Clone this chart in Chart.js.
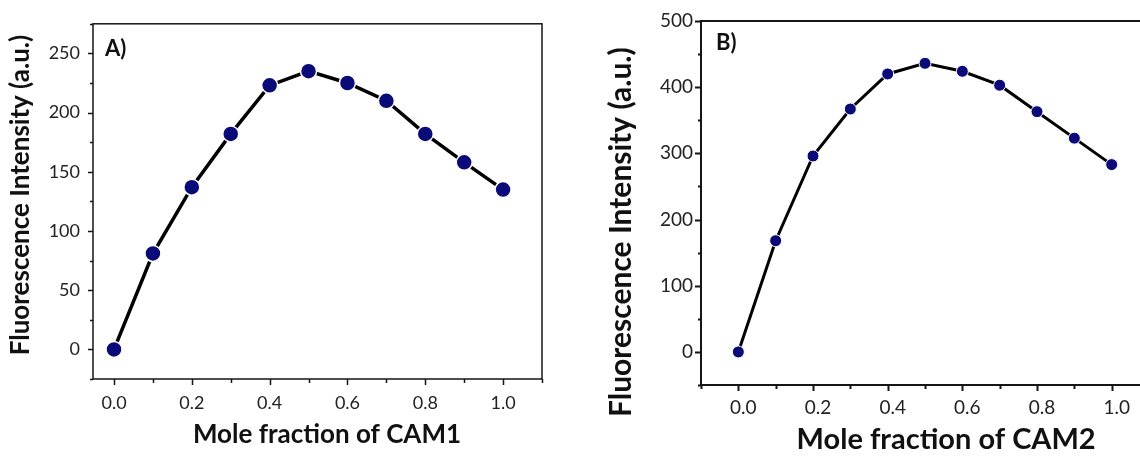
<!DOCTYPE html>
<html><head><meta charset="utf-8">
<script src="https://cdn.jsdelivr.net/npm/chart.js@4.4.1/dist/chart.umd.min.js"></script>
<style>
html,body{margin:0;padding:0;width:1140px;height:457px;overflow:hidden;background:#fff;}
#wa{position:absolute;left:0;top:0;width:560px;height:457px;}
#wb{position:absolute;left:580px;top:0;width:580px;height:457px;}
canvas{display:block;}
</style></head><body>
<div id="wa"><canvas id="ca" width="560" height="457"></canvas></div>
<div id="wb"><canvas id="cb" width="580" height="457"></canvas></div>
<script>
// ---- data ----
const moleFraction  = [0.0, 0.1, 0.2, 0.3, 0.4, 0.5, 0.6, 0.7, 0.8, 0.9, 1.0];
const cam1Intensity = [0, 81, 137, 182, 223, 235, 225, 210, 182, 158, 135];
const cam2Intensity = [0, 168, 296, 367, 420, 436, 424, 403, 363, 323, 283];

const xTickValuesA  = [0.0, 0.1, 0.2, 0.3, 0.4, 0.5, 0.6, 0.7, 0.8, 0.9, 1.0, 1.1];
const xTickValuesB  = [-0.1, 0.0, 0.1, 0.2, 0.3, 0.4, 0.5, 0.6, 0.7, 0.8, 0.9, 1.0, 1.1];
const xTickLabels   = ['0.0', '0.2', '0.4', '0.6', '0.8', '1.0'];
const yTickValuesA  = [-25, 0, 25, 50, 75, 100, 125, 150, 175, 200, 225, 250, 275];
const yTickLabelsA  = ['0', '50', '100', '150', '200', '250'];
const yTickValuesB  = [-50, 0, 50, 100, 150, 200, 250, 300, 350, 400, 450, 500];
const yTickLabelsB  = ['0', '100', '200', '300', '400', '500'];

Chart.defaults.font.family = 'Lato';

function labelFor(value, list, digits) {
  const s = digits ? value.toFixed(digits) : String(Math.round(value));
  return list.includes(s) ? s : '';
}

function framePlugin(c) {
  return {
    id: 'frame' + c.panel,
    afterDraw(chart) {
      const ctx = chart.ctx, a = chart.chartArea, x = chart.scales.x, y = chart.scales.y;
      ctx.save();
      ctx.strokeStyle = '#151515';
      ctx.lineWidth = c.lw;
      ctx.lineCap = 'square';
      ctx.strokeRect(a.left, a.top, a.right - a.left, a.bottom - a.top);
      ctx.lineWidth = c.tw;
      ctx.lineCap = 'butt';
      ctx.beginPath();
      for (const t of x.ticks) {
        const px = Math.round(x.getPixelForValue(t.value)) + 0.5;
        const len = t.label ? c.xMaj : c.xMin;
        ctx.moveTo(px, a.bottom); ctx.lineTo(px, a.bottom + len);
      }
      for (const t of y.ticks) {
        const py = Math.round(y.getPixelForValue(t.value)) + 0.5;
        const len = t.label ? c.yMaj : c.yMin;
        ctx.moveTo(a.left, py); ctx.lineTo(a.left - len, py);
      }
      ctx.stroke();
      ctx.fillStyle = '#111';
      ctx.font = 'bold ' + c.pfs + 'px Lato';
      ctx.textBaseline = 'alphabetic';
      ctx.textAlign = 'left';
      ctx.fillText(c.panel + ')', a.left + c.pdx, a.top + c.pdy);
      ctx.restore();
    }
  };
}

function makeChart(id, values, o) {
  const pts = moleFraction.map((v, i) => ({x: v, y: values[i]}));
  return new Chart(document.getElementById(id), {
    type: 'line',
    data: { datasets: [{
      data: pts,
      borderColor: '#000',
      borderWidth: o.lineW,
      pointBackgroundColor: '#0a0a78',
      pointBorderColor: '#ffffff',
      pointBorderWidth: o.pbw,
      pointRadius: o.pr,
      tension: 0,
      clip: false
    }]},
    options: {
      responsive: false,
      animation: false,
      layout: { padding: o.pad },
      plugins: { legend: { display: false }, tooltip: { enabled: false } },
      scales: {
        x: {
          type: 'linear', min: o.xMin, max: 1.1,
          afterBuildTicks: s => { s.ticks = o.xTicks.map(v => ({value: v})); },
          afterFit: s => { s.height = o.xH; },
          grid: { display: false, drawTicks: false },
          border: { display: false },
          ticks: {
            autoSkip: false, maxRotation: 0, padding: o.xPad, color: '#222',
            labelOffset: o.xLabelOffset,
            font: { size: o.tfs },
            callback: v => labelFor(v, xTickLabels, 1)
          },
          title: { display: true, text: o.xTitle, color: '#111',
                   font: { size: o.xtfs, weight: 'bold' },
                   padding: { top: 0, bottom: o.xtPad } }
        },
        y: {
          type: 'linear', min: o.yMin, max: o.yMax,
          afterBuildTicks: s => { s.ticks = o.yTicks.map(v => ({value: v})); },
          afterFit: s => { s.width = o.yW; },
          grid: { display: false, drawTicks: false },
          border: { display: false },
          ticks: {
            autoSkip: false, padding: o.yPad, color: '#222',
            font: { size: o.tfs },
            callback: v => labelFor(v, o.yLabels, 0)
          },
          title: { display: true, text: o.yTitle, color: '#111',
                   font: { size: o.ytfs, weight: 'bold' },
                   padding: { top: o.ytPad, bottom: 0 } }
        }
      }
    },
    plugins: [framePlugin(o.frame)]
  });
}

makeChart('ca', cam1Intensity, {
  lineW: 3.5, pbw: 1.5, pr: 8,
  pad: { left: 0, right: 18, top: 18, bottom: 0 },
  xMin: -0.054, xTicks: xTickValuesA, xH: 78, xPad: 13, xLabelOffset: 0,
  tfs: 18, xtfs: 26, xtPad: 7,
  xTitle: '   Mole fraction of CAM1',
  yMin: -25, yMax: 275, yTicks: yTickValuesA, yLabels: yTickLabelsA,
  yW: 93, yPad: 13, ytfs: 26, ytPad: 5,
  yTitle: '  Fluorescence Intensity (a.u.)',
  frame: { panel: 'A', lw: 1.5, tw: 1.5, xMaj: 6, xMin: 4, yMaj: 5, yMin: 3, pfs: 22, pdx: 12, pdy: 32 }
});

makeChart('cb', cam2Intensity, {
  lineW: 3, pbw: 1, pr: 6,
  pad: { left: 0, right: 10, top: 21, bottom: 0 },
  xMin: -0.1, xTicks: xTickValuesB, xH: 72, xPad: 11, xLabelOffset: 5,
  tfs: 19, xtfs: 29, xtPad: 0,
  xTitle: '      Mole fraction of CAM2',
  yMin: -50, yMax: 500, yTicks: yTickValuesB, yLabels: yTickLabelsB,
  yW: 121, yPad: 8, ytfs: 30, ytPad: 23,
  yTitle: 'Fluorescence Intensity (a.u.)        ',
  frame: { panel: 'B', lw: 2, tw: 2, xMaj: 6, xMin: 4, yMaj: 6, yMin: 3, pfs: 22, pdx: 15, pdy: 29 }
});
</script>
</body></html>
